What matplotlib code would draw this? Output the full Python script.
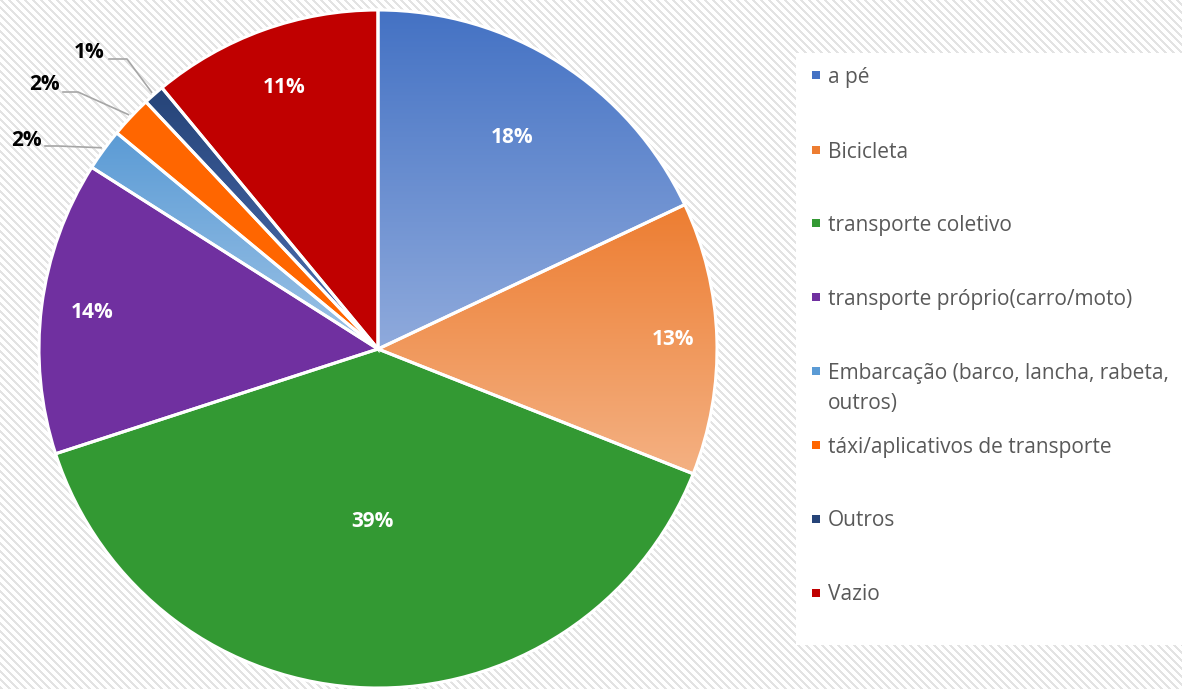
import textwrap

import numpy as np
import matplotlib.pyplot as plt
from matplotlib.colors import to_rgb
from matplotlib.patches import Rectangle, Wedge

plt.rcParams["font.family"] = ["Open Sans", "DejaVu Sans"]

W, H = 1182, 689

categories = [
    "a pé",
    "Bicicleta",
    "transporte coletivo",
    "transporte próprio(carro/moto)",
    "Embarcação (barco, lancha, rabeta, outros)",
    "táxi/aplicativos de transporte",
    "Outros",
    "Vazio",
]
percent = [18, 13, 39, 14, 2, 2, 1, 11]

# fill colours: top of slice -> bottom of slice (equal means flat fill)
top_colors = ["#4472C4", "#ED7D31", "#339933", "#7030A0",
              "#5B9BD5", "#FF6600", "#264478", "#C00000"]
bottom_colors = ["#8FAADC", "#F4B183", "#339933", "#7030A0",
                 "#9DC3E6", "#FF6600", "#4F71B5", "#C00000"]

# label placement: radial fraction for labels inside, None for outside ones
inside_r = [0.74, 0.87, 0.51, 0.85, None, None, None, 0.82]
# outside labels (image px): text centre, leader start, leader elbow
outside = {
    4: ((26, 140), (45, 146), (58, 146)),
    5: ((44, 85), (63, 92), (78, 92)),
    6: ((89, 53), (109, 59), (127, 59)),
}

cx, cy, R = 378, H - 349, 339


def img(x, y):
    return x, H - y


fig = plt.figure(figsize=(W / 100, H / 100), dpi=100)
ax = fig.add_axes([0, 0, 1, 1])
ax.set_axis_off()

# diagonal striped backdrop
yy, xx = np.mgrid[0:H, 0:W]
stripes = ((xx - yy) % 8) < 3
bg = np.ones((H, W, 3))
bg[stripes] = to_rgb("#E3E3E3")
ax.imshow(bg, extent=[0, W, 0, H], origin="upper", zorder=0, aspect="auto")

wedges, _ = ax.pie(
    percent,
    center=(cx, cy),
    radius=R,
    startangle=90,
    counterclock=False,
    colors=top_colors,
    wedgeprops=dict(linewidth=0, zorder=1),
    frame=True,
)

for i, w in enumerate(wedges):
    if top_colors[i] != bottom_colors[i]:
        ext = w.get_path().get_extents()
        c0, c1 = np.array(to_rgb(bottom_colors[i])), np.array(to_rgb(top_colors[i]))
        t = np.linspace(0, 1, 256)[:, None, None]
        grad = c0 + (c1 - c0) * t
        im = ax.imshow(grad, extent=[ext.x0, ext.x1, ext.y0, ext.y1],
                       origin="lower", aspect="auto", zorder=2)
        im.set_clip_path(w)
    ax.add_patch(Wedge((cx, cy), R, w.theta1, w.theta2, facecolor="none",
                       edgecolor="white", linewidth=2.2, zorder=3))

# percentage labels
for i, w in enumerate(wedges):
    mid = np.deg2rad((w.theta1 + w.theta2) / 2)
    text = f"{percent[i]}%"
    if inside_r[i] is not None:
        r = inside_r[i] * R
        ax.text(cx + r * np.cos(mid), cy + r * np.sin(mid), text,
                ha="center", va="center", color="white",
                fontsize=15, fontweight="bold", zorder=5)
    else:
        (tx, ty), start, elbow = outside[i]
        ax.text(*img(tx, ty), text, ha="center", va="center", color="black",
                fontsize=15, fontweight="bold", zorder=5)
        end = (cx + 1.01 * R * np.cos(mid), cy + 1.01 * R * np.sin(mid))
        pts = [img(*start), img(*elbow), end]
        ax.plot([p[0] for p in pts], [p[1] for p in pts],
                color="#A6A6A6", linewidth=1.2, zorder=4)

# legend panel
ax.add_patch(Rectangle(img(796, 645), W - 796, 645 - 53,
                       facecolor="white", edgecolor="none", zorder=4))
legend_y = [75, 150, 223, 297, 371, 445, 519, 593]
for i, name in enumerate(categories):
    y = legend_y[i]
    ax.add_patch(Rectangle(img(812, y + 4), 8, 8, zorder=5,
                           facecolor=top_colors[i], edgecolor="none"))
    for k, line in enumerate(textwrap.wrap(name, 34)):
        ax.text(*img(828, y + 2 + k * 31), line, ha="left", va="center",
                color="#595959", fontsize=15, zorder=5)

ax.set_xlim(0, W)
ax.set_ylim(0, H)
ax.set_aspect("auto")

fig.savefig("out.png", dpi=100)
